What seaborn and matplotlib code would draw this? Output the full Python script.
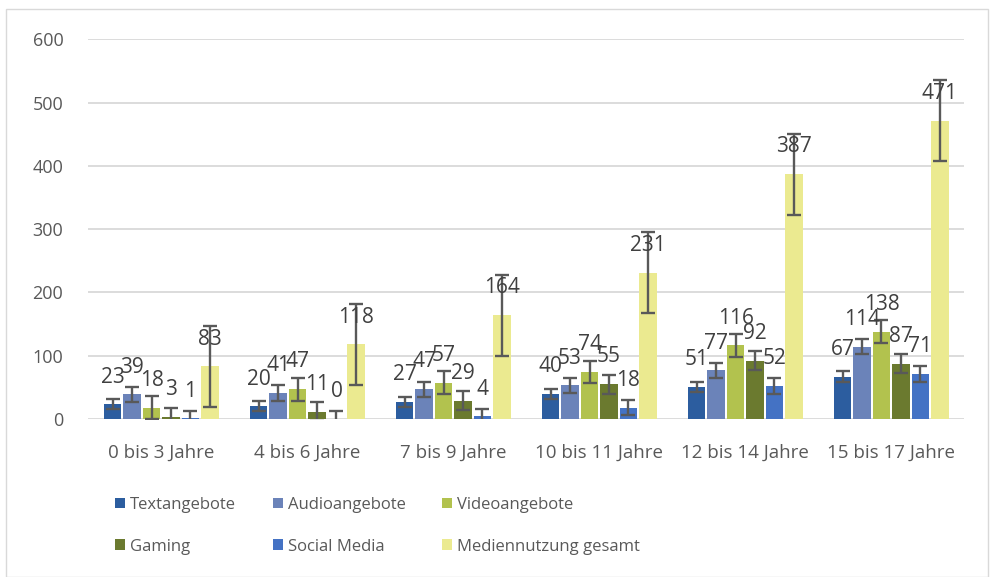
import pandas as pd
import matplotlib.pyplot as plt
import seaborn as sns
from matplotlib.patches import Rectangle

# data
age_groups = ['0 bis 3 Jahre', '4 bis 6 Jahre', '7 bis 9 Jahre',
              '10 bis 11 Jahre', '12 bis 14 Jahre', '15 bis 17 Jahre']
series = ['Textangebote', 'Audioangebote', 'Videoangebote',
          'Gaming', 'Social Media', 'Mediennutzung gesamt']
text = [23, 20, 27, 40, 51, 67]
audio = [39, 41, 47, 53, 77, 114]
video = [18, 47, 57, 74, 116, 138]
gaming = [3, 11, 29, 55, 92, 87]
social = [1, 0, 4, 18, 52, 71]
total = [83, 118, 164, 231, 387, 471]
errors = [8, 12, 18, 15, 12, 64]  # fixed error per series

colors = ['#2C5D9F', '#6B83B9', '#B2C24E', '#6B7A2F', '#4472C4', '#EBEA90']

values = [text, audio, video, gaming, social, total]
rows = []
for s, vals in zip(series, values):
    for g, v in zip(age_groups, vals):
        rows.append({'Alter': g, 'Serie': s, 'Wert': v})
df = pd.DataFrame(rows)

sns.set_style('white')
plt.rcParams['font.family'] = ['Open Sans', 'DejaVu Sans']

fig = plt.figure(figsize=(9.92, 5.77), dpi=100)
ax = fig.add_axes([0.089, 0.274, 0.883, 0.658])

sns.barplot(data=df, x='Alter', y='Wert', hue='Serie', order=age_groups,
            hue_order=series, palette=colors, width=0.8, gap=0.1,
            errorbar=None, ax=ax, saturation=1, linewidth=0)

for cont, err in zip(ax.containers, errors):
    xs = [p.get_x() + p.get_width() / 2 for p in cont]
    ys = [p.get_height() for p in cont]
    ax.errorbar(xs, ys, yerr=err, fmt='none', ecolor='#595959',
                elinewidth=1.7, capsize=5, capthick=1.7, zorder=3)
    ax.bar_label(cont, labels=[str(int(v)) for v in ys], padding=12,
                 fontsize=15, color='#404040', zorder=4)

ax.set_ylim(0, 600)
ax.set_yticks(range(0, 601, 100))
ax.set_xlim(-0.5, 5.5)
ax.yaxis.grid(True, color='#D9D9D9', linewidth=1.3)
ax.set_axisbelow(True)
for sp in ax.spines.values():
    sp.set_visible(False)
ax.set_xlabel('')
ax.set_ylabel('')
ax.tick_params(axis='x', length=0, pad=18, labelsize=13.5, labelcolor='#595959')
ax.tick_params(axis='y', length=0, pad=18, labelsize=13, labelcolor='#595959')

handles, labels = ax.get_legend_handles_labels()
order = [0, 3, 1, 4, 2, 5]
ax.legend([handles[i] for i in order], [labels[i] for i in order],
          loc='upper left', bbox_to_anchor=(0.101, 0.165),
          bbox_transform=fig.transFigure, ncol=3, frameon=False,
          fontsize=12, handlelength=0.6, handleheight=0.6,
          handletextpad=0.3, columnspacing=2.2, labelspacing=1.55,
          labelcolor='#595959')

fig.patches.append(Rectangle((0.006, 0.0), 0.99, 0.985, transform=fig.transFigure,
                             fill=False, edgecolor='#D9D9D9', linewidth=1))

fig.savefig('out.png', dpi=100)
